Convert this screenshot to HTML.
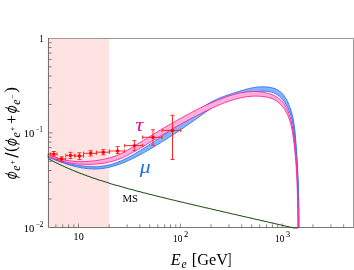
<!DOCTYPE html>
<html><head><meta charset="utf-8"><title>plot</title>
<style>html,body{margin:0;padding:0;background:#fff;}body{width:354px;height:270px;overflow:hidden;font-family:"Liberation Serif",serif;}</style>
</head><body>
<svg width="354" height="270" viewBox="0 0 354 270" style="display:block;will-change:transform">
<rect width="354" height="270" fill="#fff"/>
<rect x="47.6" y="38.5" width="61.699999999999996" height="189.0" fill="#ffe3e3"/>
<path d="M47.70,155.14 L50.38,156.48 L52.55,157.74 L54.77,158.89 L57.04,159.94 L59.36,160.89 L61.71,161.74 L64.09,162.50 L66.50,163.17 L68.92,163.76 L71.36,164.28 L73.81,164.74 L76.27,165.15 L78.74,165.51 L81.20,165.85 L83.68,166.16 L86.15,166.42 L88.64,166.64 L91.13,166.79 L93.63,166.86 L96.13,166.84 L98.63,166.71 L101.12,166.47 L103.59,166.13 L106.05,165.68 L108.49,165.14 L110.91,164.50 L113.30,163.78 L115.67,162.98 L118.01,162.11 L120.32,161.17 L122.61,160.16 L124.87,159.11 L127.10,158.00 L129.31,156.85 L131.50,155.66 L133.67,154.43 L135.82,153.18 L137.95,151.90 L140.07,150.60 L142.18,149.28 L144.28,147.94 L146.37,146.60 L148.46,145.25 L150.54,143.89 L152.62,142.53 L154.70,141.16 L156.77,139.79 L158.84,138.41 L160.91,137.03 L162.97,135.64 L165.03,134.25 L167.08,132.85 L169.13,131.45 L171.17,130.03 L173.20,128.59 L175.23,127.15 L177.25,125.70 L179.27,124.25 L181.29,122.80 L183.30,121.34 L185.31,119.88 L187.32,118.41 L189.32,116.94 L191.32,115.47 L193.32,113.99 L195.32,112.51 L197.31,111.04 L199.32,109.57 L201.35,108.14 L203.41,106.74 L205.48,105.38 L207.59,104.06 L209.73,102.80 L211.91,101.61 L214.13,100.49 L216.38,99.44 L218.66,98.45 L220.96,97.52 L223.29,96.64 L225.62,95.79 L227.97,94.98 L230.33,94.19 L232.69,93.41 L235.05,92.64 L237.41,91.88 L239.78,91.13 L242.16,90.41 L244.55,89.72 L246.95,89.08 L249.37,88.50 L251.80,87.98 L254.24,87.54 L256.70,87.20 L259.18,86.95 L261.66,86.82 L264.14,86.82 L266.62,86.96 L269.09,87.25 L271.53,87.71 L273.93,88.36 L276.25,89.24 L278.45,90.39 L280.47,91.83 L282.28,93.53 L283.88,95.43 L285.29,97.47 L286.55,99.62 L287.68,101.83 L288.70,104.09 L289.63,106.40 L290.47,108.74 L291.22,111.11 L291.89,113.50 L292.49,115.91 L293.02,118.34 L293.48,120.78 L293.89,123.23 L294.25,125.69 L294.57,128.15 L294.85,130.62 L295.10,133.09 L295.33,135.57 L295.54,138.04 L295.75,140.52 L295.94,143.00 L296.13,145.47 L296.31,147.95 L296.49,150.43 L296.66,152.91 L296.83,155.39 L296.99,157.87 L297.14,160.35 L297.29,162.83 L297.43,165.31 L297.56,167.79 L297.69,170.27 L297.81,172.75 L297.93,175.24 L298.04,177.72 L298.15,180.20 L298.25,182.68 L298.34,185.17 L298.43,187.65 L298.51,190.13 L298.58,192.62 L298.65,195.10 L298.71,197.59 L298.77,200.07 L298.82,202.55 L298.86,205.04 L298.90,207.52 L298.94,210.01 L298.96,212.49 L298.98,214.98 L299.00,217.46 L299.01,219.95 L299.01,222.43 L299.01,224.92 L299.00,227.40 L298.60,227.40 L298.61,224.95 L298.61,222.51 L298.60,220.06 L298.59,217.61 L298.58,215.17 L298.56,212.72 L298.54,210.27 L298.51,207.83 L298.48,205.38 L298.44,202.93 L298.39,200.49 L298.34,198.04 L298.28,195.59 L298.21,193.15 L298.14,190.70 L298.06,188.26 L297.98,185.81 L297.89,183.37 L297.79,180.92 L297.68,178.48 L297.56,176.03 L297.44,173.59 L297.31,171.15 L297.18,168.70 L297.03,166.26 L296.88,163.82 L296.72,161.38 L296.55,158.94 L296.37,156.50 L296.18,154.06 L295.99,151.62 L295.79,149.18 L295.58,146.74 L295.36,144.30 L295.13,141.87 L294.90,139.43 L294.65,137.00 L294.39,134.57 L294.10,132.14 L293.78,129.71 L293.43,127.29 L293.02,124.88 L292.56,122.47 L292.04,120.08 L291.44,117.71 L290.77,115.36 L290.01,113.03 L289.15,110.74 L288.18,108.49 L287.10,106.30 L285.91,104.16 L284.59,102.10 L283.14,100.13 L281.54,98.28 L279.77,96.59 L277.83,95.10 L275.74,93.84 L273.51,92.82 L271.19,92.05 L268.81,91.52 L266.38,91.22 L263.93,91.13 L261.49,91.21 L259.05,91.42 L256.63,91.74 L254.21,92.13 L251.81,92.59 L249.41,93.07 L247.02,93.59 L244.63,94.14 L242.26,94.73 L239.89,95.36 L237.54,96.04 L235.21,96.76 L232.88,97.53 L230.58,98.36 L228.30,99.25 L226.04,100.19 L223.81,101.20 L221.61,102.27 L219.44,103.40 L217.31,104.59 L215.19,105.82 L213.11,107.10 L211.05,108.42 L209.01,109.77 L206.99,111.15 L204.98,112.55 L202.99,113.97 L201.00,115.40 L199.02,116.84 L197.03,118.26 L195.04,119.69 L193.05,121.11 L191.06,122.53 L189.06,123.93 L187.05,125.33 L185.04,126.73 L183.02,128.11 L181.00,129.48 L178.97,130.85 L176.93,132.21 L174.89,133.55 L172.85,134.89 L170.79,136.22 L168.74,137.55 L166.69,138.88 L164.63,140.20 L162.57,141.50 L160.49,142.80 L158.41,144.09 L156.33,145.36 L154.24,146.63 L152.14,147.88 L150.03,149.12 L147.91,150.34 L145.79,151.56 L143.66,152.76 L141.53,153.94 L139.38,155.11 L137.22,156.25 L135.05,157.37 L132.87,158.46 L130.67,159.52 L128.45,160.55 L126.22,161.53 L123.97,162.48 L121.71,163.38 L119.42,164.22 L117.12,165.02 L114.79,165.75 L112.45,166.43 L110.10,167.03 L107.72,167.56 L105.33,168.01 L102.93,168.39 L100.51,168.67 L98.09,168.86 L95.66,168.96 L93.23,168.96 L90.80,168.87 L88.37,168.70 L85.95,168.44 L83.54,168.12 L81.13,167.72 L78.74,167.26 L76.36,166.74 L73.99,166.17 L71.63,165.54 L69.29,164.87 L66.95,164.16 L64.63,163.41 L62.32,162.62 L60.02,161.80 L57.73,160.96 L55.45,160.08 L53.18,159.18 L50.91,158.27 L47.70,157.33Z" fill="#8ab6fb" stroke="none"/>
<path d="M47.70,156.23 L50.65,157.38 L52.86,158.46 L55.11,159.49 L57.39,160.45 L59.69,161.35 L62.01,162.18 L64.36,162.95 L66.73,163.66 L69.10,164.31 L71.50,164.91 L73.90,165.45 L76.32,165.94 L78.74,166.39 L81.17,166.78 L83.61,167.14 L86.05,167.43 L88.50,167.67 L90.96,167.83 L93.43,167.91 L95.89,167.90 L98.36,167.79 L100.81,167.57 L103.26,167.26 L105.69,166.85 L108.11,166.35 L110.50,165.77 L112.88,165.10 L115.23,164.37 L117.56,163.56 L119.87,162.69 L122.16,161.77 L124.42,160.79 L126.66,159.77 L128.88,158.70 L131.08,157.59 L133.27,156.45 L135.43,155.28 L137.59,154.08 L139.73,152.85 L141.85,151.61 L143.97,150.35 L146.08,149.08 L148.19,147.80 L150.29,146.50 L152.38,145.20 L154.47,143.89 L156.55,142.58 L158.63,141.25 L160.70,139.92 L162.77,138.57 L164.83,137.22 L166.89,135.86 L168.94,134.50 L170.98,133.12 L173.02,131.74 L175.06,130.35 L177.09,128.96 L179.12,127.55 L181.14,126.14 L183.16,124.73 L185.17,123.30 L187.18,121.87 L189.19,120.44 L191.19,119.00 L193.19,117.55 L195.18,116.10 L197.17,114.65 L199.17,113.20 L201.18,111.77 L203.20,110.36 L205.23,108.97 L207.29,107.61 L209.37,106.29 L211.48,105.02 L213.62,103.80 L215.79,102.63 L217.98,101.52 L220.20,100.46 L222.45,99.45 L224.72,98.50 L227.01,97.59 L229.31,96.72 L231.63,95.89 L233.97,95.09 L236.31,94.32 L238.66,93.58 L241.03,92.89 L243.40,92.23 L245.79,91.61 L248.19,91.04 L250.60,90.53 L253.02,90.06 L255.46,89.67 L257.90,89.35 L260.35,89.12 L262.81,89.02 L265.28,89.05 L267.73,89.24 L270.17,89.62 L272.56,90.21 L274.88,91.03 L277.10,92.11 L279.15,93.46 L281.03,95.06 L282.71,96.86 L284.22,98.80 L285.57,100.86 L286.80,103.00 L287.90,105.20 L288.91,107.45 L289.81,109.74 L290.61,112.07 L291.33,114.43 L291.97,116.81 L292.53,119.21 L293.02,121.63 L293.46,124.05 L293.84,126.49 L294.18,128.93 L294.48,131.38 L294.75,133.83 L294.99,136.28 L295.22,138.74 L295.44,141.19 L295.65,143.65 L295.85,146.11 L296.05,148.57 L296.24,151.02 L296.42,153.48 L296.60,155.94 L296.77,158.40 L296.93,160.86 L297.08,163.32 L297.23,165.79 L297.37,168.25 L297.50,170.71 L297.63,173.17 L297.75,175.64 L297.86,178.10 L297.97,180.56 L298.07,183.03 L298.16,185.49 L298.24,187.95 L298.32,190.42 L298.40,192.88 L298.46,195.35 L298.52,197.81 L298.58,200.28 L298.63,202.74 L298.67,205.21 L298.71,207.67 L298.74,210.14 L298.76,212.61 L298.78,215.07 L298.80,217.54 L298.80,220.00 L298.81,222.47 L298.81,224.93 L298.80,227.40" fill="none" stroke="#78a8f9" stroke-width="0.8"/>
<path d="M47.70,155.14 L50.38,156.48 L52.55,157.74 L54.77,158.89 L57.04,159.94 L59.36,160.89 L61.71,161.74 L64.09,162.50 L66.50,163.17 L68.92,163.76 L71.36,164.28 L73.81,164.74 L76.27,165.15 L78.74,165.51 L81.20,165.85 L83.68,166.16 L86.15,166.42 L88.64,166.64 L91.13,166.79 L93.63,166.86 L96.13,166.84 L98.63,166.71 L101.12,166.47 L103.59,166.13 L106.05,165.68 L108.49,165.14 L110.91,164.50 L113.30,163.78 L115.67,162.98 L118.01,162.11 L120.32,161.17 L122.61,160.16 L124.87,159.11 L127.10,158.00 L129.31,156.85 L131.50,155.66 L133.67,154.43 L135.82,153.18 L137.95,151.90 L140.07,150.60 L142.18,149.28 L144.28,147.94 L146.37,146.60 L148.46,145.25 L150.54,143.89 L152.62,142.53 L154.70,141.16 L156.77,139.79 L158.84,138.41 L160.91,137.03 L162.97,135.64 L165.03,134.25 L167.08,132.85 L169.13,131.45 L171.17,130.03 L173.20,128.59 L175.23,127.15 L177.25,125.70 L179.27,124.25 L181.29,122.80 L183.30,121.34 L185.31,119.88 L187.32,118.41 L189.32,116.94 L191.32,115.47 L193.32,113.99 L195.32,112.51 L197.31,111.04 L199.32,109.57 L201.35,108.14 L203.41,106.74 L205.48,105.38 L207.59,104.06 L209.73,102.80 L211.91,101.61 L214.13,100.49 L216.38,99.44 L218.66,98.45 L220.96,97.52 L223.29,96.64 L225.62,95.79 L227.97,94.98 L230.33,94.19 L232.69,93.41 L235.05,92.64 L237.41,91.88 L239.78,91.13 L242.16,90.41 L244.55,89.72 L246.95,89.08 L249.37,88.50 L251.80,87.98 L254.24,87.54 L256.70,87.20 L259.18,86.95 L261.66,86.82 L264.14,86.82 L266.62,86.96 L269.09,87.25 L271.53,87.71 L273.93,88.36 L276.25,89.24 L278.45,90.39 L280.47,91.83 L282.28,93.53 L283.88,95.43 L285.29,97.47 L286.55,99.62 L287.68,101.83 L288.70,104.09 L289.63,106.40 L290.47,108.74 L291.22,111.11 L291.89,113.50 L292.49,115.91 L293.02,118.34 L293.48,120.78 L293.89,123.23 L294.25,125.69 L294.57,128.15 L294.85,130.62 L295.10,133.09 L295.33,135.57 L295.54,138.04 L295.75,140.52 L295.94,143.00 L296.13,145.47 L296.31,147.95 L296.49,150.43 L296.66,152.91 L296.83,155.39 L296.99,157.87 L297.14,160.35 L297.29,162.83 L297.43,165.31 L297.56,167.79 L297.69,170.27 L297.81,172.75 L297.93,175.24 L298.04,177.72 L298.15,180.20 L298.25,182.68 L298.34,185.17 L298.43,187.65 L298.51,190.13 L298.58,192.62 L298.65,195.10 L298.71,197.59 L298.77,200.07 L298.82,202.55 L298.86,205.04 L298.90,207.52 L298.94,210.01 L298.96,212.49 L298.98,214.98 L299.00,217.46 L299.01,219.95 L299.01,222.43 L299.01,224.92 L299.00,227.40" fill="none" stroke="#2a70f0" stroke-width="0.9"/>
<path d="M47.70,157.33 L50.91,158.27 L53.18,159.18 L55.45,160.08 L57.73,160.96 L60.02,161.80 L62.32,162.62 L64.63,163.41 L66.95,164.16 L69.29,164.87 L71.63,165.54 L73.99,166.17 L76.36,166.74 L78.74,167.26 L81.13,167.72 L83.54,168.12 L85.95,168.44 L88.37,168.70 L90.80,168.87 L93.23,168.96 L95.66,168.96 L98.09,168.86 L100.51,168.67 L102.93,168.39 L105.33,168.01 L107.72,167.56 L110.10,167.03 L112.45,166.43 L114.79,165.75 L117.12,165.02 L119.42,164.22 L121.71,163.38 L123.97,162.48 L126.22,161.53 L128.45,160.55 L130.67,159.52 L132.87,158.46 L135.05,157.37 L137.22,156.25 L139.38,155.11 L141.53,153.94 L143.66,152.76 L145.79,151.56 L147.91,150.34 L150.03,149.12 L152.14,147.88 L154.24,146.63 L156.33,145.36 L158.41,144.09 L160.49,142.80 L162.57,141.50 L164.63,140.20 L166.69,138.88 L168.74,137.55 L170.79,136.22 L172.85,134.89 L174.89,133.55 L176.93,132.21 L178.97,130.85 L181.00,129.48 L183.02,128.11 L185.04,126.73 L187.05,125.33 L189.06,123.93 L191.06,122.53 L193.05,121.11 L195.04,119.69 L197.03,118.26 L199.02,116.84 L201.00,115.40 L202.99,113.97 L204.98,112.55 L206.99,111.15 L209.01,109.77 L211.05,108.42 L213.11,107.10 L215.19,105.82 L217.31,104.59 L219.44,103.40 L221.61,102.27 L223.81,101.20 L226.04,100.19 L228.30,99.25 L230.58,98.36 L232.88,97.53 L235.21,96.76 L237.54,96.04 L239.89,95.36 L242.26,94.73 L244.63,94.14 L247.02,93.59 L249.41,93.07 L251.81,92.59 L254.21,92.13 L256.63,91.74 L259.05,91.42 L261.49,91.21 L263.93,91.13 L266.38,91.22 L268.81,91.52 L271.19,92.05 L273.51,92.82 L275.74,93.84 L277.83,95.10 L279.77,96.59 L281.54,98.28 L283.14,100.13 L284.59,102.10 L285.91,104.16 L287.10,106.30 L288.18,108.49 L289.15,110.74 L290.01,113.03 L290.77,115.36 L291.44,117.71 L292.04,120.08 L292.56,122.47 L293.02,124.88 L293.43,127.29 L293.78,129.71 L294.10,132.14 L294.39,134.57 L294.65,137.00 L294.90,139.43 L295.13,141.87 L295.36,144.30 L295.58,146.74 L295.79,149.18 L295.99,151.62 L296.18,154.06 L296.37,156.50 L296.55,158.94 L296.72,161.38 L296.88,163.82 L297.03,166.26 L297.18,168.70 L297.31,171.15 L297.44,173.59 L297.56,176.03 L297.68,178.48 L297.79,180.92 L297.89,183.37 L297.98,185.81 L298.06,188.26 L298.14,190.70 L298.21,193.15 L298.28,195.59 L298.34,198.04 L298.39,200.49 L298.44,202.93 L298.48,205.38 L298.51,207.83 L298.54,210.27 L298.56,212.72 L298.58,215.17 L298.59,217.61 L298.60,220.06 L298.61,222.51 L298.61,224.95 L298.60,227.40" fill="none" stroke="#2a70f0" stroke-width="0.9"/>

<path d="M47.70,154.16 L50.48,155.23 L52.68,156.23 L54.93,157.13 L57.20,157.95 L59.51,158.68 L61.83,159.32 L64.19,159.89 L66.55,160.36 L68.94,160.76 L71.33,161.09 L73.73,161.33 L76.14,161.51 L78.55,161.62 L80.96,161.66 L83.38,161.64 L85.79,161.55 L88.19,161.42 L90.60,161.22 L93.00,160.97 L95.39,160.68 L97.78,160.33 L100.15,159.94 L102.52,159.50 L104.89,159.01 L107.23,158.45 L109.57,157.83 L111.88,157.15 L114.17,156.39 L116.44,155.56 L118.68,154.65 L120.89,153.66 L123.05,152.59 L125.19,151.46 L127.29,150.29 L129.37,149.07 L131.43,147.82 L133.48,146.56 L135.52,145.29 L137.56,144.02 L139.59,142.75 L141.63,141.48 L143.68,140.21 L145.72,138.95 L147.77,137.69 L149.81,136.44 L151.86,135.18 L153.92,133.94 L155.97,132.69 L158.03,131.46 L160.09,130.23 L162.16,129.00 L164.22,127.78 L166.30,126.57 L168.37,125.36 L170.45,124.16 L172.53,122.95 L174.60,121.75 L176.69,120.55 L178.77,119.36 L180.87,118.19 L182.97,117.02 L185.07,115.86 L187.18,114.72 L189.30,113.58 L191.42,112.46 L193.55,111.35 L195.69,110.25 L197.83,109.16 L199.98,108.09 L202.15,107.05 L204.32,106.03 L206.50,105.03 L208.69,104.03 L210.89,103.06 L213.09,102.09 L215.30,101.15 L217.52,100.23 L219.74,99.33 L221.98,98.46 L224.23,97.62 L226.50,96.81 L228.78,96.05 L231.07,95.32 L233.37,94.65 L235.69,94.02 L238.03,93.46 L240.38,92.95 L242.74,92.52 L245.11,92.15 L247.50,91.86 L249.89,91.66 L252.29,91.54 L254.69,91.52 L257.10,91.60 L259.49,91.78 L261.88,92.07 L264.25,92.46 L266.59,92.97 L268.91,93.60 L271.19,94.37 L273.41,95.28 L275.56,96.35 L277.62,97.59 L279.56,99.00 L281.36,100.59 L282.99,102.36 L284.42,104.28 L285.68,106.33 L286.80,108.46 L287.78,110.65 L288.66,112.88 L289.46,115.15 L290.18,117.44 L290.84,119.75 L291.43,122.08 L291.97,124.42 L292.45,126.78 L292.88,129.14 L293.27,131.51 L293.63,133.88 L293.96,136.27 L294.26,138.65 L294.54,141.03 L294.81,143.42 L295.07,145.81 L295.31,148.20 L295.54,150.59 L295.76,152.99 L295.96,155.38 L296.15,157.77 L296.33,160.17 L296.50,162.57 L296.66,164.96 L296.81,167.36 L296.95,169.76 L297.07,172.16 L297.19,174.56 L297.30,176.96 L297.40,179.36 L297.50,181.76 L297.59,184.16 L297.67,186.56 L297.74,188.96 L297.81,191.37 L297.87,193.77 L297.92,196.17 L297.98,198.57 L298.02,200.97 L298.07,203.38 L298.11,205.78 L298.15,208.18 L298.18,210.58 L298.21,212.99 L298.25,215.39 L298.28,217.79 L298.31,220.19 L298.34,222.60 L298.37,225.00 L298.40,227.40 L297.95,227.40 L297.92,225.03 L297.89,222.65 L297.86,220.28 L297.83,217.90 L297.80,215.53 L297.77,213.15 L297.74,210.78 L297.70,208.41 L297.67,206.03 L297.62,203.66 L297.58,201.28 L297.53,198.91 L297.47,196.54 L297.41,194.16 L297.35,191.79 L297.28,189.42 L297.20,187.04 L297.11,184.67 L297.02,182.30 L296.92,179.93 L296.81,177.55 L296.69,175.18 L296.56,172.81 L296.43,170.44 L296.28,168.07 L296.12,165.70 L295.95,163.33 L295.77,160.97 L295.57,158.60 L295.37,156.23 L295.15,153.87 L294.92,151.51 L294.68,149.15 L294.42,146.78 L294.15,144.43 L293.87,142.07 L293.57,139.71 L293.26,137.36 L292.92,135.01 L292.55,132.66 L292.14,130.32 L291.68,127.99 L291.17,125.68 L290.59,123.37 L289.94,121.09 L289.19,118.84 L288.36,116.61 L287.41,114.44 L286.35,112.31 L285.17,110.25 L283.86,108.27 L282.42,106.39 L280.85,104.61 L279.14,102.96 L277.29,101.47 L275.31,100.17 L273.20,99.08 L270.99,98.20 L268.72,97.52 L266.40,97.01 L264.06,96.62 L261.70,96.35 L259.33,96.18 L256.96,96.09 L254.58,96.10 L252.21,96.20 L249.85,96.38 L247.49,96.64 L245.14,96.98 L242.80,97.39 L240.47,97.87 L238.16,98.40 L235.86,99.00 L233.58,99.66 L231.31,100.36 L229.06,101.11 L226.82,101.90 L224.59,102.73 L222.38,103.60 L220.19,104.50 L218.00,105.42 L215.82,106.37 L213.66,107.35 L211.50,108.34 L209.35,109.35 L207.21,110.38 L205.08,111.42 L202.95,112.48 L200.84,113.55 L198.71,114.62 L196.60,115.69 L194.48,116.78 L192.38,117.87 L190.28,118.98 L188.18,120.10 L186.09,121.23 L184.00,122.36 L181.92,123.51 L179.85,124.66 L177.77,125.82 L175.70,126.99 L173.64,128.16 L171.58,129.34 L169.52,130.53 L167.48,131.74 L165.43,132.95 L163.40,134.17 L161.36,135.39 L159.32,136.61 L157.28,137.83 L155.25,139.05 L153.21,140.28 L151.18,141.50 L149.14,142.71 L147.10,143.93 L145.06,145.14 L143.02,146.36 L140.97,147.56 L138.93,148.76 L136.88,149.96 L134.82,151.15 L132.77,152.33 L130.70,153.49 L128.62,154.63 L126.53,155.72 L124.41,156.77 L122.26,157.76 L120.08,158.67 L117.88,159.51 L115.64,160.26 L113.38,160.94 L111.10,161.54 L108.79,162.07 L106.48,162.54 L104.15,162.95 L101.81,163.30 L99.46,163.59 L97.11,163.84 L94.75,164.04 L92.39,164.20 L90.03,164.30 L87.66,164.35 L85.30,164.35 L82.93,164.30 L80.57,164.19 L78.21,164.03 L75.86,163.81 L73.51,163.53 L71.17,163.19 L68.84,162.78 L66.52,162.32 L64.22,161.79 L61.93,161.19 L59.67,160.53 L57.42,159.80 L55.19,159.01 L52.99,158.15 L50.82,157.23 L47.70,156.24Z" fill="#ffb6dc" stroke="none"/>
<path d="M47.70,155.20 L50.65,156.23 L52.84,157.19 L55.06,158.07 L57.31,158.88 L59.59,159.61 L61.88,160.26 L64.20,160.84 L66.54,161.34 L68.89,161.77 L71.25,162.14 L73.62,162.43 L76.00,162.66 L78.38,162.82 L80.77,162.93 L83.15,162.97 L85.54,162.95 L87.93,162.88 L90.31,162.76 L92.69,162.58 L95.07,162.36 L97.44,162.09 L99.81,161.77 L102.17,161.40 L104.52,160.98 L106.86,160.50 L109.18,159.95 L111.49,159.34 L113.78,158.66 L116.04,157.91 L118.28,157.08 L120.49,156.16 L122.66,155.17 L124.80,154.12 L126.91,153.00 L129.00,151.85 L131.07,150.66 L133.12,149.45 L135.17,148.22 L137.22,146.99 L139.26,145.75 L141.30,144.52 L143.35,143.28 L145.39,142.05 L147.43,140.81 L149.48,139.58 L151.52,138.34 L153.56,137.11 L155.61,135.87 L157.66,134.64 L159.71,133.42 L161.76,132.20 L163.81,130.98 L165.87,129.76 L167.92,128.55 L169.99,127.35 L172.05,126.15 L174.12,124.96 L176.20,123.77 L178.27,122.59 L180.36,121.42 L182.44,120.26 L184.54,119.11 L186.64,117.97 L188.74,116.84 L190.85,115.72 L192.96,114.61 L195.09,113.51 L197.21,112.43 L199.35,111.35 L201.49,110.30 L203.64,109.26 L205.79,108.23 L207.95,107.21 L210.12,106.21 L212.30,105.22 L214.48,104.25 L216.67,103.30 L218.87,102.38 L221.08,101.48 L223.31,100.61 L225.55,99.77 L227.80,98.97 L230.06,98.22 L232.34,97.50 L234.63,96.84 L236.94,96.23 L239.27,95.68 L241.60,95.19 L243.95,94.77 L246.32,94.42 L248.69,94.15 L251.07,93.96 L253.45,93.86 L255.84,93.85 L258.22,93.94 L260.60,94.12 L262.97,94.41 L265.33,94.80 L267.66,95.30 L269.95,95.95 L272.20,96.74 L274.38,97.71 L276.46,98.88 L278.43,100.24 L280.25,101.78 L281.92,103.48 L283.42,105.33 L284.77,107.30 L285.98,109.35 L287.07,111.48 L288.04,113.66 L288.91,115.88 L289.69,118.14 L290.39,120.42 L291.01,122.73 L291.57,125.05 L292.07,127.39 L292.51,129.73 L292.91,132.09 L293.27,134.45 L293.61,136.81 L293.91,139.18 L294.21,141.55 L294.48,143.92 L294.75,146.30 L295.00,148.67 L295.23,151.05 L295.46,153.43 L295.67,155.81 L295.86,158.19 L296.05,160.57 L296.23,162.95 L296.39,165.33 L296.54,167.72 L296.69,170.10 L296.82,172.49 L296.94,174.87 L297.06,177.26 L297.16,179.64 L297.26,182.03 L297.35,184.42 L297.43,186.80 L297.51,189.19 L297.58,191.58 L297.64,193.97 L297.70,196.35 L297.75,198.74 L297.80,201.13 L297.85,203.52 L297.89,205.91 L297.92,208.29 L297.96,210.68 L297.99,213.07 L298.03,215.46 L298.06,217.85 L298.09,220.24 L298.12,222.62 L298.14,225.01 L298.17,227.40" fill="none" stroke="#ffa0d2" stroke-width="0.8"/>
<path d="M47.70,154.16 L50.48,155.23 L52.68,156.23 L54.93,157.13 L57.20,157.95 L59.51,158.68 L61.83,159.32 L64.19,159.89 L66.55,160.36 L68.94,160.76 L71.33,161.09 L73.73,161.33 L76.14,161.51 L78.55,161.62 L80.96,161.66 L83.38,161.64 L85.79,161.55 L88.19,161.42 L90.60,161.22 L93.00,160.97 L95.39,160.68 L97.78,160.33 L100.15,159.94 L102.52,159.50 L104.89,159.01 L107.23,158.45 L109.57,157.83 L111.88,157.15 L114.17,156.39 L116.44,155.56 L118.68,154.65 L120.89,153.66 L123.05,152.59 L125.19,151.46 L127.29,150.29 L129.37,149.07 L131.43,147.82 L133.48,146.56 L135.52,145.29 L137.56,144.02 L139.59,142.75 L141.63,141.48 L143.68,140.21 L145.72,138.95 L147.77,137.69 L149.81,136.44 L151.86,135.18 L153.92,133.94 L155.97,132.69 L158.03,131.46 L160.09,130.23 L162.16,129.00 L164.22,127.78 L166.30,126.57 L168.37,125.36 L170.45,124.16 L172.53,122.95 L174.60,121.75 L176.69,120.55 L178.77,119.36 L180.87,118.19 L182.97,117.02 L185.07,115.86 L187.18,114.72 L189.30,113.58 L191.42,112.46 L193.55,111.35 L195.69,110.25 L197.83,109.16 L199.98,108.09 L202.15,107.05 L204.32,106.03 L206.50,105.03 L208.69,104.03 L210.89,103.06 L213.09,102.09 L215.30,101.15 L217.52,100.23 L219.74,99.33 L221.98,98.46 L224.23,97.62 L226.50,96.81 L228.78,96.05 L231.07,95.32 L233.37,94.65 L235.69,94.02 L238.03,93.46 L240.38,92.95 L242.74,92.52 L245.11,92.15 L247.50,91.86 L249.89,91.66 L252.29,91.54 L254.69,91.52 L257.10,91.60 L259.49,91.78 L261.88,92.07 L264.25,92.46 L266.59,92.97 L268.91,93.60 L271.19,94.37 L273.41,95.28 L275.56,96.35 L277.62,97.59 L279.56,99.00 L281.36,100.59 L282.99,102.36 L284.42,104.28 L285.68,106.33 L286.80,108.46 L287.78,110.65 L288.66,112.88 L289.46,115.15 L290.18,117.44 L290.84,119.75 L291.43,122.08 L291.97,124.42 L292.45,126.78 L292.88,129.14 L293.27,131.51 L293.63,133.88 L293.96,136.27 L294.26,138.65 L294.54,141.03 L294.81,143.42 L295.07,145.81 L295.31,148.20 L295.54,150.59 L295.76,152.99 L295.96,155.38 L296.15,157.77 L296.33,160.17 L296.50,162.57 L296.66,164.96 L296.81,167.36 L296.95,169.76 L297.07,172.16 L297.19,174.56 L297.30,176.96 L297.40,179.36 L297.50,181.76 L297.59,184.16 L297.67,186.56 L297.74,188.96 L297.81,191.37 L297.87,193.77 L297.92,196.17 L297.98,198.57 L298.02,200.97 L298.07,203.38 L298.11,205.78 L298.15,208.18 L298.18,210.58 L298.21,212.99 L298.25,215.39 L298.28,217.79 L298.31,220.19 L298.34,222.60 L298.37,225.00 L298.40,227.40" fill="none" stroke="#fb1f9c" stroke-width="0.9"/>
<path d="M47.70,156.24 L50.82,157.23 L52.99,158.15 L55.19,159.01 L57.42,159.80 L59.67,160.53 L61.93,161.19 L64.22,161.79 L66.52,162.32 L68.84,162.78 L71.17,163.19 L73.51,163.53 L75.86,163.81 L78.21,164.03 L80.57,164.19 L82.93,164.30 L85.30,164.35 L87.66,164.35 L90.03,164.30 L92.39,164.20 L94.75,164.04 L97.11,163.84 L99.46,163.59 L101.81,163.30 L104.15,162.95 L106.48,162.54 L108.79,162.07 L111.10,161.54 L113.38,160.94 L115.64,160.26 L117.88,159.51 L120.08,158.67 L122.26,157.76 L124.41,156.77 L126.53,155.72 L128.62,154.63 L130.70,153.49 L132.77,152.33 L134.82,151.15 L136.88,149.96 L138.93,148.76 L140.97,147.56 L143.02,146.36 L145.06,145.14 L147.10,143.93 L149.14,142.71 L151.18,141.50 L153.21,140.28 L155.25,139.05 L157.28,137.83 L159.32,136.61 L161.36,135.39 L163.40,134.17 L165.43,132.95 L167.48,131.74 L169.52,130.53 L171.58,129.34 L173.64,128.16 L175.70,126.99 L177.77,125.82 L179.85,124.66 L181.92,123.51 L184.00,122.36 L186.09,121.23 L188.18,120.10 L190.28,118.98 L192.38,117.87 L194.48,116.78 L196.60,115.69 L198.71,114.62 L200.84,113.55 L202.95,112.48 L205.08,111.42 L207.21,110.38 L209.35,109.35 L211.50,108.34 L213.66,107.35 L215.82,106.37 L218.00,105.42 L220.19,104.50 L222.38,103.60 L224.59,102.73 L226.82,101.90 L229.06,101.11 L231.31,100.36 L233.58,99.66 L235.86,99.00 L238.16,98.40 L240.47,97.87 L242.80,97.39 L245.14,96.98 L247.49,96.64 L249.85,96.38 L252.21,96.20 L254.58,96.10 L256.96,96.09 L259.33,96.18 L261.70,96.35 L264.06,96.62 L266.40,97.01 L268.72,97.52 L270.99,98.20 L273.20,99.08 L275.31,100.17 L277.29,101.47 L279.14,102.96 L280.85,104.61 L282.42,106.39 L283.86,108.27 L285.17,110.25 L286.35,112.31 L287.41,114.44 L288.36,116.61 L289.19,118.84 L289.94,121.09 L290.59,123.37 L291.17,125.68 L291.68,127.99 L292.14,130.32 L292.55,132.66 L292.92,135.01 L293.26,137.36 L293.57,139.71 L293.87,142.07 L294.15,144.43 L294.42,146.78 L294.68,149.15 L294.92,151.51 L295.15,153.87 L295.37,156.23 L295.57,158.60 L295.77,160.97 L295.95,163.33 L296.12,165.70 L296.28,168.07 L296.43,170.44 L296.56,172.81 L296.69,175.18 L296.81,177.55 L296.92,179.93 L297.02,182.30 L297.11,184.67 L297.20,187.04 L297.28,189.42 L297.35,191.79 L297.41,194.16 L297.47,196.54 L297.53,198.91 L297.58,201.28 L297.62,203.66 L297.67,206.03 L297.70,208.41 L297.74,210.78 L297.77,213.15 L297.80,215.53 L297.83,217.90 L297.86,220.28 L297.89,222.65 L297.92,225.03 L297.95,227.40" fill="none" stroke="#fb1f9c" stroke-width="0.9"/>

<path d="M48.66,158.96 L49.50,159.40 L50.34,159.84 L51.18,160.28 L52.02,160.71 L52.86,161.14 L53.70,161.56 L54.54,161.98 L55.38,162.40 L56.22,162.81 L57.06,163.22 L57.90,163.63 L58.73,164.03 L59.57,164.43 L60.41,164.83 L61.25,165.22 L62.09,165.61 L62.93,166.00 L63.77,166.38 L64.61,166.76 L65.45,167.14 L66.29,167.51 L67.13,167.88 L67.97,168.25 L68.80,168.61 L69.64,168.97 L70.48,169.33 L71.32,169.68 L72.16,170.04 L73.00,170.39 L73.84,170.73 L74.68,171.07 L75.52,171.42 L76.36,171.75 L77.20,172.09 L78.04,172.42 L78.88,172.75 L79.71,173.08 L80.55,173.40 L81.39,173.72 L82.23,174.04 L83.07,174.36 L83.91,174.67 L84.75,174.98 L85.59,175.29 L86.43,175.60 L87.27,175.90 L88.11,176.21 L88.95,176.51 L89.78,176.80 L90.62,177.10 L91.46,177.39 L92.30,177.69 L93.14,177.97 L93.98,178.26 L94.82,178.55 L95.66,178.83 L96.50,179.11 L97.34,179.39 L98.18,179.67 L99.02,179.95 L99.85,180.22 L100.69,180.49 L101.53,180.76 L102.37,181.03 L103.21,181.30 L104.05,181.57 L104.89,181.83 L105.73,182.09 L106.57,182.35 L107.41,182.61 L108.25,182.87 L109.09,183.13 L109.93,183.38 L110.76,183.63 L111.60,183.89 L112.44,184.14 L113.28,184.39 L114.12,184.64 L114.96,184.88 L115.80,185.13 L116.64,185.37 L117.48,185.62 L118.32,185.86 L119.16,186.10 L120.00,186.34 L120.83,186.58 L121.67,186.82 L122.51,187.05 L123.35,187.29 L124.19,187.52 L125.03,187.76 L125.87,187.99 L126.71,188.22 L127.55,188.45 L128.39,188.68 L129.23,188.91 L130.07,189.14 L130.91,189.37 L131.74,189.59 L132.58,189.82 L133.42,190.04 L134.26,190.27 L135.10,190.49 L135.94,190.71 L136.78,190.93 L137.62,191.15 L138.46,191.37 L139.30,191.59 L140.14,191.81 L140.98,192.03 L141.81,192.25 L142.65,192.47 L143.49,192.68 L144.33,192.90 L145.17,193.11 L146.01,193.33 L146.85,193.54 L147.69,193.76 L148.53,193.97 L149.37,194.18 L150.21,194.39 L151.05,194.60 L151.88,194.82 L152.72,195.03 L153.56,195.24 L154.40,195.45 L155.24,195.65 L156.08,195.86 L156.92,196.07 L157.76,196.28 L158.60,196.49 L159.44,196.69 L160.28,196.90 L161.12,197.11 L161.96,197.31 L162.79,197.52 L163.63,197.72 L164.47,197.93 L165.31,198.13 L166.15,198.34 L166.99,198.54 L167.83,198.74 L168.67,198.95 L169.51,199.15 L170.35,199.35 L171.19,199.56 L172.03,199.76 L172.86,199.96 L173.70,200.16 L174.54,200.36 L175.38,200.56 L176.22,200.76 L177.06,200.97 L177.90,201.17 L178.74,201.37 L179.58,201.57 L180.42,201.77 L181.26,201.97 L182.10,202.16 L182.93,202.36 L183.77,202.56 L184.61,202.76 L185.45,202.96 L186.29,203.16 L187.13,203.36 L187.97,203.55 L188.81,203.75 L189.65,203.95 L190.49,204.15 L191.33,204.34 L192.17,204.54 L193.01,204.74 L193.84,204.94 L194.68,205.13 L195.52,205.33 L196.36,205.53 L197.20,205.72 L198.04,205.92 L198.88,206.11 L199.72,206.31 L200.56,206.51 L201.40,206.70 L202.24,206.90 L203.08,207.09 L203.91,207.29 L204.75,207.48 L205.59,207.68 L206.43,207.87 L207.27,208.07 L208.11,208.26 L208.95,208.46 L209.79,208.65 L210.63,208.85 L211.47,209.04 L212.31,209.24 L213.15,209.43 L213.99,209.63 L214.82,209.82 L215.66,210.01 L216.50,210.21 L217.34,210.40 L218.18,210.60 L219.02,210.79 L219.86,210.98 L220.70,211.18 L221.54,211.37 L222.38,211.57 L223.22,211.76 L224.06,211.95 L224.89,212.15 L225.73,212.34 L226.57,212.53 L227.41,212.73 L228.25,212.92 L229.09,213.11 L229.93,213.31 L230.77,213.50 L231.61,213.69 L232.45,213.89 L233.29,214.08 L234.13,214.27 L234.96,214.47 L235.80,214.66 L236.64,214.85 L237.48,215.05 L238.32,215.24 L239.16,215.43 L240.00,215.62 L240.84,215.82 L241.68,216.01 L242.52,216.20 L243.36,216.40 L244.20,216.59 L245.04,216.78 L245.87,216.97 L246.71,217.17 L247.55,217.36 L248.39,217.55 L249.23,217.74 L250.07,217.94 L250.91,218.13 L251.75,218.32 L252.59,218.51 L253.43,218.71 L254.27,218.90 L255.11,219.09 L255.94,219.28 L256.78,219.48 L257.62,219.67 L258.46,219.86 L259.30,220.05 L260.14,220.25 L260.98,220.44 L261.82,220.63 L262.66,220.82 L263.50,221.02 L264.34,221.21 L265.18,221.40 L266.01,221.59 L266.85,221.79 L267.69,221.98 L268.53,222.17 L269.37,222.36 L270.21,222.55 L271.05,222.75 L271.89,222.94 L272.73,223.13 L273.57,223.32 L274.41,223.52 L275.25,223.71 L276.09,223.90 L276.92,224.09 L277.76,224.29 L278.60,224.48 L279.44,224.67 L280.28,224.86 L281.12,225.05 L281.96,225.25 L282.80,225.44 L283.64,225.63 L284.48,225.82 L285.32,226.02 L286.16,226.21 L286.99,226.40 L287.83,226.59 L288.67,226.78 L289.51,226.98 L290.35,227.17 L291.19,227.36 L292.03,227.55 L292.87,227.75 L293.71,227.94 L294.55,228.00 L295.39,228.00 L296.23,228.00 L297.07,228.00 L297.90,228.00" fill="none" stroke="#2a5520" stroke-width="1.05"/>
<path d="M50.6,154.1 H57.1 M53.8,151.5 V156.2 M50.6,152.4 V155.79999999999998 M57.1,152.4 V155.79999999999998 M51.8,151.5 H55.8 M51.8,156.2 H55.8" stroke="#ff2020" stroke-width="0.95" fill="none"/>
<path d="M57.1,159.0 H65.6 M61.6,156.8 V161.4 M57.1,157.3 V160.7 M65.6,157.3 V160.7 M59.6,156.8 H63.6 M59.6,161.4 H63.6" stroke="#ff2020" stroke-width="0.95" fill="none"/>
<path d="M65.8,155.4 H74.8 M70.5,152.3 V158.6 M65.8,153.70000000000002 V157.1 M74.8,153.70000000000002 V157.1 M68.5,152.3 H72.5 M68.5,158.6 H72.5" stroke="#ff2020" stroke-width="0.95" fill="none"/>
<path d="M74.8,156.0 H83.5 M79.4,152.8 V159.4 M74.8,154.3 V157.7 M83.5,154.3 V157.7 M77.4,152.8 H81.4 M77.4,159.4 H81.4" stroke="#ff2020" stroke-width="0.95" fill="none"/>
<path d="M83.5,153.3 H96.4 M90.7,150.7 V156.0 M83.5,151.60000000000002 V155.0 M96.4,151.60000000000002 V155.0 M88.7,150.7 H92.7 M88.7,156.0 H92.7" stroke="#ff2020" stroke-width="0.95" fill="none"/>
<path d="M96.4,152.2 H109.4 M103.3,149.7 V154.8 M96.4,150.5 V153.89999999999998 M109.4,150.5 V153.89999999999998 M101.3,149.7 H105.3 M101.3,154.8 H105.3" stroke="#ff2020" stroke-width="0.95" fill="none"/>
<path d="M109.4,151.0 H124.6 M117.6,146.6 V153.6 M109.4,149.3 V152.7 M124.6,149.3 V152.7 M115.6,146.6 H119.6 M115.6,153.6 H119.6" stroke="#ff2020" stroke-width="0.95" fill="none"/>
<path d="M124.6,145.6 H142.6 M134.4,140.6 V150.7 M124.6,143.9 V147.29999999999998 M142.6,143.9 V147.29999999999998 M132.4,140.6 H136.4 M132.4,150.7 H136.4" stroke="#ff2020" stroke-width="0.95" fill="none"/>
<path d="M142.6,137.3 H162.0 M153.0,129.8 V145.3 M142.6,135.60000000000002 V139.0 M162.0,135.60000000000002 V139.0 M151.0,129.8 H155.0 M151.0,145.3 H155.0" stroke="#ff2020" stroke-width="0.95" fill="none"/>
<path d="M162.0,130.4 H180.7 M172.5,115.3 V159.5 M162.0,128.70000000000002 V132.1 M180.7,128.70000000000002 V132.1 M170.5,115.3 H174.5 M170.5,159.5 H174.5" stroke="#ff2020" stroke-width="0.95" fill="none"/>
<circle cx="53.8" cy="154.1" r="1.7" fill="#ff0000"/>
<circle cx="61.6" cy="159.0" r="1.7" fill="#ff0000"/>
<circle cx="70.5" cy="155.4" r="1.7" fill="#ff0000"/>
<circle cx="79.4" cy="156.0" r="1.7" fill="#ff0000"/>
<circle cx="90.7" cy="153.3" r="1.7" fill="#ff0000"/>
<circle cx="103.3" cy="152.2" r="1.7" fill="#ff0000"/>
<circle cx="117.6" cy="151.0" r="1.7" fill="#ff0000"/>
<circle cx="134.4" cy="145.6" r="1.7" fill="#ff0000"/>
<circle cx="153.0" cy="137.3" r="1.7" fill="#ff0000"/>
<circle cx="172.5" cy="130.4" r="1.7" fill="#ff0000"/>

<path d="M48.5,38.5 H353.5 V227.5" fill="none" stroke="#999" stroke-width="1"/>
<path d="M48.5,38.0 V227.5 H353.5" fill="none" stroke="#3a3a3a" stroke-width="0.68"/>
<path d="M55.89,227.5 v-3.2 M62.72,227.5 v-3.2 M68.62,227.5 v-3.2 M73.84,227.5 v-3.2 M78.50,227.5 v-4.0 M109.17,227.5 v-3.2 M127.12,227.5 v-3.2 M139.85,227.5 v-3.2 M149.73,227.5 v-3.2 M157.79,227.5 v-3.2 M164.62,227.5 v-3.2 M170.52,227.5 v-3.2 M175.74,227.5 v-3.2 M180.40,227.5 v-4.0 M211.07,227.5 v-3.2 M229.02,227.5 v-3.2 M241.75,227.5 v-3.2 M251.63,227.5 v-3.2 M259.69,227.5 v-3.2 M266.52,227.5 v-3.2 M272.42,227.5 v-3.2 M277.64,227.5 v-3.2 M282.30,227.5 v-4.0 M312.97,227.5 v-3.2 M330.92,227.5 v-3.2 M343.65,227.5 v-3.2 M48.5,198.95 h3.2 M48.5,182.31 h3.2 M48.5,170.51 h3.2 M48.5,161.35 h3.2 M48.5,153.86 h3.2 M48.5,147.54 h3.2 M48.5,142.06 h3.2 M48.5,137.22 h3.2 M48.5,132.90 h4.0 M48.5,104.45 h3.2 M48.5,87.81 h3.2 M48.5,76.01 h3.2 M48.5,66.85 h3.2 M48.5,59.36 h3.2 M48.5,53.04 h3.2 M48.5,47.56 h3.2 M48.5,42.72 h3.2 " stroke="#444" stroke-width="0.62" fill="none"/>

<g font-family="Liberation Serif, serif" fill="#000">
<text transform="translate(73.62,240.1) scale(0.915,1)" font-size="11" stroke="#000" stroke-width="0.04">10</text>

<text transform="translate(173.09,242.1) scale(0.842,1)" font-size="11" stroke="#000" stroke-width="0.04">10</text>
<text transform="translate(183.93,236.8) scale(1.178,1)" font-size="7.2" stroke="#000" stroke-width="0.04">2</text>

<text transform="translate(275.09,242.1) scale(0.842,1)" font-size="11" stroke="#000" stroke-width="0.04">10</text>
<text transform="translate(285.91,236.8) scale(1.143,1)" font-size="7.2" stroke="#000" stroke-width="0.04">3</text>

<text transform="translate(39.23,41.7) scale(0.801,1)" font-size="11" stroke="#000" stroke-width="0.04">1</text>

<text transform="translate(23.76,136.9) scale(0.967,1)" font-size="11" stroke="#000" stroke-width="0.04">10</text>
<text transform="translate(35.78,131.9) scale(0.888,1)" font-size="7.2" stroke="#000" stroke-width="0.04">−1</text>

<text transform="translate(23.76,231.8) scale(0.967,1)" font-size="11" stroke="#000" stroke-width="0.04">10</text>
<text transform="translate(35.75,226.7) scale(0.985,1)" font-size="7.2" stroke="#000" stroke-width="0.04">−2</text>

<text transform="translate(122.39,201.7) scale(1.078,1)" font-size="10">MS</text>

<text transform="translate(135.19,130.8) scale(1.190,1)" font-size="19.5" font-style="italic" fill="#e6109a">τ</text>

<text transform="translate(139.72,173.1) scale(1.206,1)" font-size="18" font-style="italic" fill="#1f6ff0">μ</text>

<text transform="translate(170.69,264.8) scale(0.989,1)" font-size="16.5" font-style="italic">E</text>

<text transform="translate(181.45,267.8) scale(0.960,1)" font-size="12" font-style="italic">e</text>

<text transform="translate(191.79,264.8) scale(0.988,1)" font-size="16.5">[GeV</text>

<text transform="translate(227.38,264.8) scale(0.708,1)" font-size="16.5">]</text>

<g transform="translate(16.2,180) rotate(-90)" font-family="Liberation Serif, serif" fill="#000">
<ellipse cx="4.7" cy="-3.9" rx="2.8" ry="4.0" transform="rotate(18 4.7 -3.9)" fill="none" stroke="#000" stroke-width="1.0"/><path d="M2.5,3.4 L6.6,-11" stroke="#000" stroke-width="0.95" fill="none"/>
<text x="12.0" y="3.3" font-size="12" text-anchor="middle" font-style="italic">e</text>
<text x="17.7" y="-1.6" font-size="8" text-anchor="middle">+</text>
<ellipse cx="37.9" cy="-3.9" rx="2.8" ry="4.0" transform="rotate(18 37.9 -3.9)" fill="none" stroke="#000" stroke-width="1.0"/><path d="M35.699999999999996,3.4 L39.8,-11" stroke="#000" stroke-width="0.95" fill="none"/>
<text x="45.199999999999996" y="3.3" font-size="12" text-anchor="middle" font-style="italic">e</text>
<text x="50.9" y="-1.6" font-size="8" text-anchor="middle">+</text>
<ellipse cx="70.6" cy="-3.9" rx="2.8" ry="4.0" transform="rotate(18 70.6 -3.9)" fill="none" stroke="#000" stroke-width="1.0"/><path d="M68.39999999999999,3.4 L72.5,-11" stroke="#000" stroke-width="0.95" fill="none"/>
<text x="77.89999999999999" y="3.3" font-size="12" text-anchor="middle" font-style="italic">e</text>
<text x="83.6" y="-1.6" font-size="8" text-anchor="middle">−</text>
<path d="M22.9,2.2 L26.9,-11.2" stroke="#000" stroke-width="1.1" fill="none"/>
<text x="30.8" y="0" font-size="17" text-anchor="middle">(</text>
<text x="60.5" y="0.3" font-size="16" text-anchor="middle">+</text>
<text x="90.2" y="0" font-size="17" text-anchor="middle">)</text>
</g>

</g>
</svg>
</body></html>
